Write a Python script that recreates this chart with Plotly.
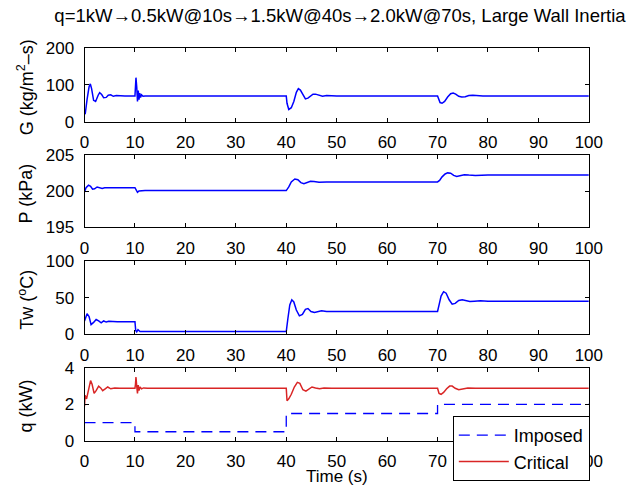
import plotly.graph_objects as go

# ---------------- data ----------------
ticks_time = [0, 10, 20, 30, 40, 50, 60, 70, 80, 90, 100]

t_G = [0, 0.15, 0.5, 0.9, 1.15, 1.4, 1.8, 2.2, 2.7, 3.0,
       3.4, 3.8, 4.3, 4.7, 5.2, 5.7, 6.3, 7.0, 8.0, 10.0,
       10.1, 10.2, 10.35, 10.5, 10.65, 10.8, 10.95, 11.1, 11.3, 11.6,
       12.0, 13, 40.0, 40.15, 40.5, 41.0, 41.5, 42.0, 42.4, 42.8,
       43.3, 43.8, 44.3, 44.8, 45.3, 45.8, 46.5, 47.2, 48.0, 49.0,
       50.0, 70.0, 70.2, 70.5, 70.9, 71.4, 72.0, 72.6, 73.1, 73.6,
       74.2, 74.8, 75.5, 76.2, 77.0, 78.0, 79.0, 100]
G_vals = [20, 22, 60, 95, 103, 90, 58, 55, 72, 79,
          74, 65, 66, 72, 73, 69, 71, 70, 70, 70,
          95, 120, 95, 55, 85, 60, 78, 66, 73, 69,
          70, 70, 70, 50, 33, 38, 55, 80, 90, 86,
          72, 62, 64, 70, 75, 75, 71, 69, 71, 70,
          70, 70, 62, 52, 50, 55, 67, 76, 78, 75,
          69, 67, 68, 71, 72, 71, 70, 70]

t_P = [0, 0.3, 0.8, 1.2, 1.6, 2.0, 2.5, 3.0, 3.5, 4.0,
       5, 6, 10, 10.2, 10.5, 10.8, 11.2, 12, 40, 40.5,
       41, 41.7, 42.3, 42.9, 43.5, 44.2, 44.8, 45.5, 46.5, 48,
       50, 70, 70.4, 70.9, 71.5, 72, 72.6, 73.2, 73.8, 74.5,
       75.3, 76.2, 77.5, 80, 100]
P_vals = [199.9, 200.5, 200.85, 200.7, 200.3, 200.35, 200.6, 200.55, 200.4, 200.5,
          200.45, 200.5, 200.5, 200.3, 199.85, 200.05, 200.1, 200.1, 200.1, 200.6,
          201.3, 201.7, 201.6, 201.2, 201.05, 201.3, 201.4, 201.35, 201.25, 201.3,
          201.3, 201.3, 201.5, 202.0, 202.4, 202.55, 202.5, 202.2, 202.05, 202.15,
          202.3, 202.25, 202.2, 202.25, 202.25]

t_Tw = [0, 0.5, 0.9, 1.3, 1.8, 2.3, 2.8, 3.3, 3.8, 4.3,
        4.8, 5.5, 6.5, 10, 10.15, 10.35, 10.6, 11, 12, 40,
        40.3, 40.7, 41.1, 41.5, 42, 42.6, 43.2, 43.8, 44.3, 44.9,
        45.6, 46.3, 47, 48, 50, 70, 70.3, 70.7, 71.2, 71.7,
        72.3, 72.9, 73.5, 74.2, 74.9, 75.6, 76.4, 77.3, 78.5, 80,
        100]
Tw_vals = [18, 28, 24, 13, 16, 20, 18, 15.5, 18, 16.5,
           17.5, 17, 17, 17, 5, 3, 6, 3.5, 3.5, 3.5,
           20, 40, 47, 44, 33, 25, 27, 34, 35, 31,
           29.5, 31, 32, 31, 31, 31, 40, 52, 58, 56,
           47, 41, 42, 46, 47, 45.5, 44.5, 45, 45.5, 45,
           45]

t_imposed = [0, 10, 40, 70, 100]
q_imposed = [1.0, 0.5, 1.5, 2.0, 2.0]

t_crit = [0, 0.1, 0.4, 0.8, 1.2, 1.5, 1.9, 2.3, 2.8, 3.2,
          3.6, 4.1, 4.6, 5.2, 6, 7, 10, 10.1, 10.2, 10.35,
          10.5, 10.65, 10.8, 11, 11.3, 11.7, 12.5, 40, 40.15, 40.5,
          41, 41.6, 42.2, 42.7, 43.3, 43.9, 44.5, 45.1, 45.8, 46.6,
          47.5, 49, 70, 70.3, 70.7, 71.2, 71.8, 72.4, 72.9, 73.5,
          74.2, 75, 76, 77.5, 80, 100]
q_crit = [1.9, 2.5, 2.3, 2.9, 3.3, 3.1, 2.6, 2.75, 3.0, 2.9,
          2.75, 2.85, 2.95, 2.85, 2.9, 2.88, 2.88, 3.1, 3.5, 3.0,
          2.6, 3.05, 2.75, 2.95, 2.85, 2.9, 2.88, 2.88, 2.2, 2.3,
          2.55, 2.95, 3.2, 3.15, 2.8, 2.72, 2.85, 2.95, 2.9, 2.85,
          2.9, 2.88, 2.88, 2.6, 2.55, 2.65, 2.85, 3.0, 3.0, 2.88,
          2.8, 2.85, 2.9, 2.88, 2.88, 2.88]

y_ranges = [[0, 200], [195, 205], [0, 100], [0, 4]]
y_ticks = [[0, 100, 200], [195, 200, 205], [0, 50, 100], [0, 2, 4]]
y_titles = ["G (kg/m<sup>2</sup>\u2013s)", "P (kPa)", "Tw (<sup>o</sup>C)", "q (kW)"]
title_text = "q=1kW\u21920.5kW@10s\u21921.5kW@40s\u21922.0kW@70s, Large Wall Inertia"

# ---------------- layout helpers ----------------
FONT = "Liberation Sans, Arial, Helvetica, sans-serif"
W, H = 630, 499


def fx(px):
    return px / W


def fy(px):
    return 1 - px / H


boxes = [(41, 117), (152, 227), (262, 338), (373, 449)]
x_dom = [fx(82), fx(602)]

BLUE = "#0000ff"
RED = "#d92525"

fig = go.Figure()
fig.add_trace(go.Scatter(x=t_G, y=G_vals, mode="lines", line=dict(color=BLUE, width=1.5),
                         xaxis="x", yaxis="y", showlegend=False))
fig.add_trace(go.Scatter(x=t_P, y=P_vals, mode="lines", line=dict(color=BLUE, width=1.5),
                         xaxis="x2", yaxis="y2", showlegend=False))
fig.add_trace(go.Scatter(x=t_Tw, y=Tw_vals, mode="lines", line=dict(color=BLUE, width=1.5),
                         xaxis="x3", yaxis="y3", showlegend=False))
fig.add_trace(go.Scatter(x=t_imposed, y=q_imposed, mode="lines", name="Imposed",
                         line=dict(color=BLUE, width=1.3, dash="11px,7px", shape="hv"),
                         xaxis="x4", yaxis="y4"))
fig.add_trace(go.Scatter(x=t_crit, y=q_crit, mode="lines", name="Critical",
                         line=dict(color=RED, width=1.5),
                         xaxis="x4", yaxis="y4"))

common = dict(showline=True, linecolor="black", linewidth=1, mirror="ticks",
              ticks="inside", ticklen=4, tickcolor="black", tickwidth=1,
              showgrid=False, zeroline=False,
              tickfont=dict(family=FONT, size=17, color="black"))

layout = dict(
    width=W, height=H,
    margin=dict(l=0, r=0, t=0, b=0),
    paper_bgcolor="white", plot_bgcolor="white",
    font=dict(family=FONT, color="black"),
    showlegend=True,
    legend=dict(x=fx(603), xanchor="right", y=fy(423), yanchor="top",
                bgcolor="white", bordercolor="black", borderwidth=1,
                itemwidth=50,
                font=dict(family=FONT, size=18, color="black"),
                tracegroupgap=0),
    title=dict(text=title_text, x=fx(340), xanchor="center", y=fy(16), yanchor="middle",
               font=dict(family=FONT, size=18.5, color="black")),
)

annotations = []
for i in range(4):
    sfx = "" if i == 0 else str(i + 1)
    top, bot = boxes[i]
    layout["xaxis" + sfx] = dict(common, domain=x_dom, range=[0, 100], tickvals=ticks_time,
                                 anchor="y" + sfx, ticklabelstandoff=5)
    layout["yaxis" + sfx] = dict(common, domain=[fy(bot), fy(top)], range=y_ranges[i],
                                 tickvals=y_ticks[i], anchor="x" + sfx, ticklabelstandoff=6)
    annotations.append(dict(text=y_titles[i], x=fx(22), y=fy((top + bot) / 2 + 2),
                            xref="paper", yref="paper", textangle=-90, showarrow=False,
                            xanchor="center", yanchor="middle",
                            font=dict(family=FONT, size=18, color="black")))

annotations.append(dict(text="Time (s)", x=fx(342), y=fy(486), xref="paper", yref="paper",
                        showarrow=False, xanchor="center", yanchor="middle",
                        font=dict(family=FONT, size=17, color="black")))
layout["annotations"] = annotations

fig.update_layout(**layout)
fig.write_html("out.html")
